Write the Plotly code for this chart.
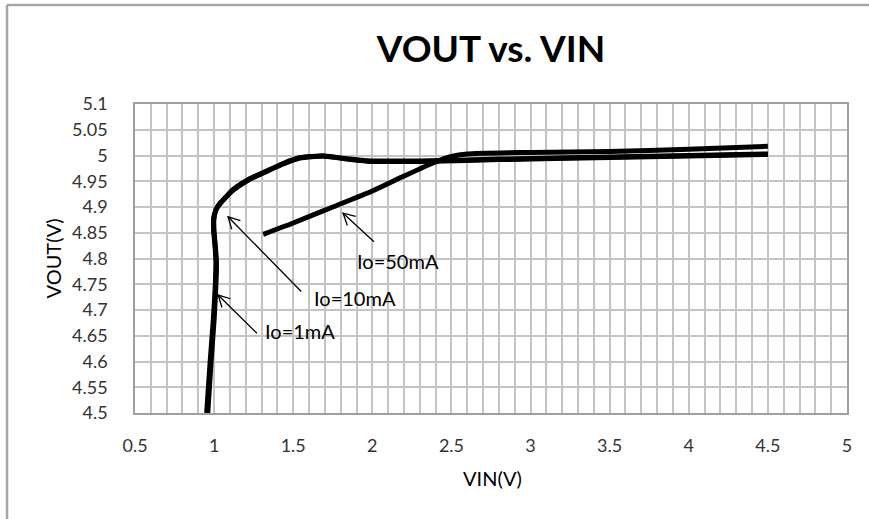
import math
import plotly.graph_objects as go

# ---- data ----
vin_1mA = [0.953, 0.974, 0.995, 1.006, 1.012, 1.006, 0.997, 0.997, 1.012, 1.037, 1.08, 1.121, 1.22, 1.332, 1.44, 1.543, 1.69, 1.859, 1.965, 2.38, 2.8, 3.5, 4.0, 4.5]
vout_1mA = [4.5, 4.596, 4.681, 4.739, 4.791, 4.823, 4.855, 4.878, 4.895, 4.907, 4.921, 4.933, 4.953, 4.969, 4.984, 4.995, 4.999, 4.993, 4.99, 4.99, 4.993, 4.997, 5.0, 5.003]

vin_10mA = [0.96, 0.98, 1.0, 1.01, 1.015, 1.008, 0.999, 0.999, 1.013, 1.038, 1.08, 1.121, 1.22, 1.332, 1.44, 1.543, 1.69, 1.859, 1.965, 2.38, 2.8, 3.5, 4.0, 4.5]
vout_10mA = [4.5, 4.596, 4.681, 4.739, 4.791, 4.823, 4.855, 4.878, 4.895, 4.907, 4.921, 4.934, 4.954, 4.970, 4.985, 4.996, 4.999, 4.992, 4.989, 4.989, 4.992, 4.996, 4.999, 5.002]

vin_50mA = [1.31, 1.5, 1.75, 2.0, 2.2, 2.38, 2.5, 2.6, 3.0, 3.5, 4.0, 4.5]
vout_50mA = [4.847, 4.869, 4.9, 4.931, 4.96, 4.985, 4.998, 5.003, 5.006, 5.008, 5.012, 5.018]

x_ticks = [0.5, 1, 1.5, 2, 2.5, 3, 3.5, 4, 4.5, 5]
x_tick_text = ["0.5", "1", "1.5", "2", "2.5", "3", "3.5", "4", "4.5", "5"]
y_ticks = [4.5, 4.55, 4.6, 4.65, 4.7, 4.75, 4.8, 4.85, 4.9, 4.95, 5.0, 5.05, 5.1]
y_tick_text = ["4.5", "4.55", "4.6", "4.65", "4.7", "4.75", "4.8", "4.85", "4.9", "4.95", "5", "5.05", "5.1"]

# label text, text position, arrow head, arrow tail
labels = ["Io=1mA", "Io=10mA", "Io=50mA"]
label_x = [1.54, 1.89, 2.16]
label_y = [4.659, 4.723, 4.795]
head_x = [1.025, 1.088, 1.815]
head_y = [4.729, 4.881, 4.888]
tail_x = [1.28, 1.56, 2.02]
tail_y = [4.652, 4.733, 4.83]

FONT = "Lato, 'Open Sans', sans-serif"
X_RANGE = [0.5, 5]
Y_RANGE = [4.5, 5.1]
W, H = 869, 519
PL, PR, PT, PB = 135, 847, 104, 413  # target plot-area pixels in the window
ML, MT = PL, PT
MR = W - PR
MB = H - PB
PW, PH = PR - PL, PB - PT

fig = go.Figure()
for xs, ys, name in [(vin_1mA, vout_1mA, "Io=1mA"), (vin_10mA, vout_10mA, "Io=10mA"), (vin_50mA, vout_50mA, "Io=50mA")]:
    fig.add_trace(go.Scatter(x=xs, y=ys, mode="lines", name=name,
                             line=dict(color="black", width=5, shape="spline", smoothing=0.6)))

# arrows
px_per_x = PW / (X_RANGE[1] - X_RANGE[0])
px_per_y = PH / (Y_RANGE[1] - Y_RANGE[0])
shapes = []
for i in range(len(labels)):
    fig.add_annotation(x=head_x[i], y=head_y[i], ax=tail_x[i], ay=tail_y[i], axref="x", ayref="y",
                       xref="x", yref="y", text="", showarrow=True, arrowhead=0, arrowwidth=1.3,
                       arrowcolor="black")
    fig.add_annotation(x=label_x[i], y=label_y[i], xref="x", yref="y", text=labels[i], showarrow=False,
                       font=dict(family=FONT, size=20, color="black"))
    dx = (tail_x[i] - head_x[i]) * px_per_x
    dy = (tail_y[i] - head_y[i]) * px_per_y
    n = math.hypot(dx, dy)
    ux, uy = dx / n, dy / n
    L, a = 13, math.radians(28)
    p1 = (L * (ux * math.cos(a) - uy * math.sin(a)), L * (ux * math.sin(a) + uy * math.cos(a)))
    p2 = (L * (ux * math.cos(-a) - uy * math.sin(-a)), L * (ux * math.sin(-a) + uy * math.cos(-a)))
    shapes.append(dict(type="path", xref="x", yref="y", xsizemode="pixel", ysizemode="pixel",
                       xanchor=head_x[i], yanchor=head_y[i],
                       path=f"M {p1[0]:.2f},{p1[1]:.2f} L 0,0 L {p2[0]:.2f},{p2[1]:.2f}",
                       line=dict(color="black", width=1.3)))

# chart-area border (top and left visible)
bx = (7 - PL) / PW
by = (PB - 5) / PH
shapes.append(dict(type="line", xref="paper", yref="paper", x0=bx, x1=1.2, y0=by, y1=by,
                   line=dict(color="#a6a6a6", width=2.5)))
shapes.append(dict(type="line", xref="paper", yref="paper", x0=bx, x1=bx, y0=-0.6, y1=by,
                   line=dict(color="#a6a6a6", width=2.5)))

# axis titles
fig.add_annotation(xref="paper", yref="paper", x=(493 - PL) / PW, y=(PB - 478) / PH, text="VIN(V)",
                   showarrow=False, xanchor="center", yanchor="middle",
                   font=dict(family=FONT, size=20, color="black"))
fig.add_annotation(xref="paper", yref="paper", x=(52 - PL) / PW, y=0.5, text="VOUT(V)", textangle=-90,
                   showarrow=False, xanchor="center", yanchor="middle",
                   font=dict(family=FONT, size=20, color="black"))

fig.update_layout(
    width=W, height=H,
    margin=dict(l=ML, r=MR, t=MT, b=MB),
    paper_bgcolor="white", plot_bgcolor="white",
    showlegend=False,
    shapes=shapes,
    title=dict(text="<b>VOUT vs. VIN</b>", x=(ML + PW / 2) / W, xanchor="center",
               y=1 - 49 / H, yanchor="middle", font=dict(family=FONT, size=37, color="black")),
    font=dict(family=FONT, color="#333333", size=18),
)
fig.update_xaxes(range=X_RANGE, tickvals=x_ticks, ticktext=x_tick_text, showgrid=True,
                 gridcolor="#c4c4c4", gridwidth=1.5,
                 minor=dict(dtick=0.1, showgrid=True, gridcolor="#c4c4c4", gridwidth=1.5),
                 showline=True, linecolor="#a0a0a0", linewidth=1.5, mirror=True,
                 ticks="", zeroline=False, ticklabelstandoff=16)
fig.update_yaxes(range=Y_RANGE, tickvals=y_ticks, ticktext=y_tick_text, showgrid=True,
                 gridcolor="#c4c4c4", gridwidth=1.5,
                 showline=True, linecolor="#a0a0a0", linewidth=1.5, mirror=True,
                 ticks="", zeroline=False, ticklabelstandoff=22)

fig.write_html("out.html", config={"displayModeBar": False},
               post_script="document.body.style.margin='0px';")
